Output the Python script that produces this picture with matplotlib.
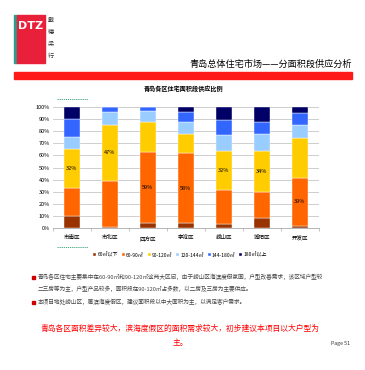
import numpy as np
import matplotlib
matplotlib.use("Agg")
import matplotlib.pyplot as plt
from matplotlib.patches import Rectangle
from matplotlib.lines import Line2D

plt.rcParams['font.family'] = ['Noto Sans CJK SC', 'DejaVu Sans']

# data (share of supply per area band, %)
districts = ['市南区', '市北区', '四方区', '李沧区', '崂山区', '城阳区', '开发区']
bands = ['60㎡以下', '60-90㎡', '90-120㎡', '120-144㎡', '144-180㎡', '180㎡以上']
colors = ['#993300', '#FF6600', '#FFCC00', '#99CCFF', '#3366FF', '#000066']
below_60 = [10, 1, 4, 4, 3, 8, 2]
b60_90 = [23, 37.5, 59, 58, 28.5, 22, 39]
b90_120 = [32, 47, 25, 16, 32.5, 34, 33]
b120_144 = [10, 10.5, 9, 9.5, 13, 14, 11]
b144_180 = [15, 4, 3, 8, 12.5, 9.5, 10]
above_180 = [10, 0, 0, 4.5, 10.5, 12.5, 5]
series = [below_60, b60_90, b90_120, b120_144, b144_180, above_180]

W, H = 365, 370
fig = plt.figure(figsize=(W / 100, H / 100), dpi=100)

def fx(x):
    return x / W

def fy(y):
    return 1 - y / H

# logo block
fig.patches.append(Rectangle((fx(14), fy(63)), fx(3), (63 - 15) / H, transform=fig.transFigure,
                             color='#2e9c8c', zorder=1))
fig.patches.append(Rectangle((fx(17), fy(63)), fx(28), (63 - 15) / H, transform=fig.transFigure,
                             color='#e8203a', zorder=1))
fig.text(fx(31), fy(26), 'DTZ', color='white', fontsize=8, fontweight='bold',
         ha='center', va='center', family='DejaVu Sans')
for i, ch in enumerate('戴德梁行'):
    fig.text(fx(51), fy(20 + i * 12), ch, fontsize=4.5, ha='center', va='center', color='#333333')

# header
fig.text(fx(352), fy(64), '青岛总体住宅市场——分面积段供应分析', fontsize=6.6, ha='right', va='center')
fig.patches.append(Rectangle((fx(14), fy(79)), fx(338), 7 / H, transform=fig.transFigure,
                             color='#ff1a1a', zorder=1))

# chart
ax = fig.add_axes([fx(53), fy(228), fx(319 - 53), (228 - 107) / H])
x = np.arange(len(districts))
bottom = np.zeros(len(districts))
for vals, lab, col in zip(series, bands, colors):
    vals = np.array(vals, dtype=float)
    ax.bar(x, vals, 0.4, bottom=bottom, color=col, label=lab, edgecolor='white', linewidth=0.3, zorder=3)
    bottom += vals

# label the largest segment of each bar
data = np.array(series, dtype=float)
for j in range(len(districts)):
    k = int(np.argmax(data[:, j]))
    base = data[:k, j].sum()
    ax.text(x[j], base + data[k, j] / 2, f'{data[k, j]:.0f}%', fontsize=4, ha='center', va='center', zorder=4)

ax.set_xlim(-0.5, len(districts) - 0.5)
ax.set_ylim(0, 100)
ax.set_yticks(np.arange(0, 101, 10))
ax.set_yticklabels([f'{v}%' for v in range(0, 101, 10)], fontsize=4)
ax.set_xticks(x)
ax.set_xticklabels(districts, fontsize=4)
ax.set_xticks(np.arange(-0.5, len(districts), 1), minor=True)
ax.tick_params(axis='x', which='major', length=0, pad=5)
ax.tick_params(axis='x', which='minor', length=2, color='#999999', width=0.4)
ax.tick_params(axis='y', length=0, pad=2)
ax.yaxis.grid(True, color='#bbbbbb', linewidth=0.5, zorder=0)
for s in ['top', 'right', 'left']:
    ax.spines[s].set_visible(False)
ax.spines['bottom'].set_color('#999999')
ax.spines['bottom'].set_linewidth(0.5)

fig.text(fx(183), fy(89), '青岛各区住宅面积段供应比例', fontsize=4.4, fontweight='bold', ha='center', va='center')

ax.legend(loc='center', bbox_to_anchor=(fx(180), fy(255)), bbox_transform=fig.transFigure,
          ncol=6, fontsize=3.6, frameon=False, handlelength=0.6, handleheight=0.6,
          handletextpad=0.2, columnspacing=0.8)

# dotted selection marks
for yy in (99, 247):
    fig.lines.append(Line2D([fx(57), fx(88)], [fy(yy), fy(yy)], transform=fig.transFigure,
                            color='#2e9c6c', linestyle=(0, (1.5, 1)), linewidth=0.6))

# bullets
bullets = [
    (277, ['青岛各区住宅主要集中在60-90㎡和90-120㎡这两大区间，由于崂山区海滨度假氛围，户型改善需求，该区域户型较',
           '二三房等为主，户型产品较多，面积段在90-120㎡占多数，以二房及三房为主要供应。']),
    (302, ['本项目地处崂山区，属滨海度假区，建议面积段以中大面积为主，以满足客户需求。']),
]
for y0, lines in bullets:
    fig.patches.append(Rectangle((fx(32), fy(y0 + 1.5)), fx(3), 3 / H, transform=fig.transFigure,
                                 color='#cc0000'))
    for i, ln in enumerate(lines):
        fig.text(fx(38), fy(y0 + i * 12), ln, fontsize=4.1, ha='left', va='center', color='#444444')

fig.text(fx(180), fy(329), '青岛各区面积差异较大，滨海度假区的面积需求较大，初步建议本项目以大户型为',
         fontsize=5.6, color='#ff0000', ha='center', va='center')
fig.text(fx(180), fy(343), '主。', fontsize=5.6, color='#ff0000', ha='center', va='center')
fig.text(fx(350), fy(343), 'Page 51', fontsize=3.8, ha='right', va='center', color='#333333')

fig.savefig('out.png', dpi=100, facecolor='white')
